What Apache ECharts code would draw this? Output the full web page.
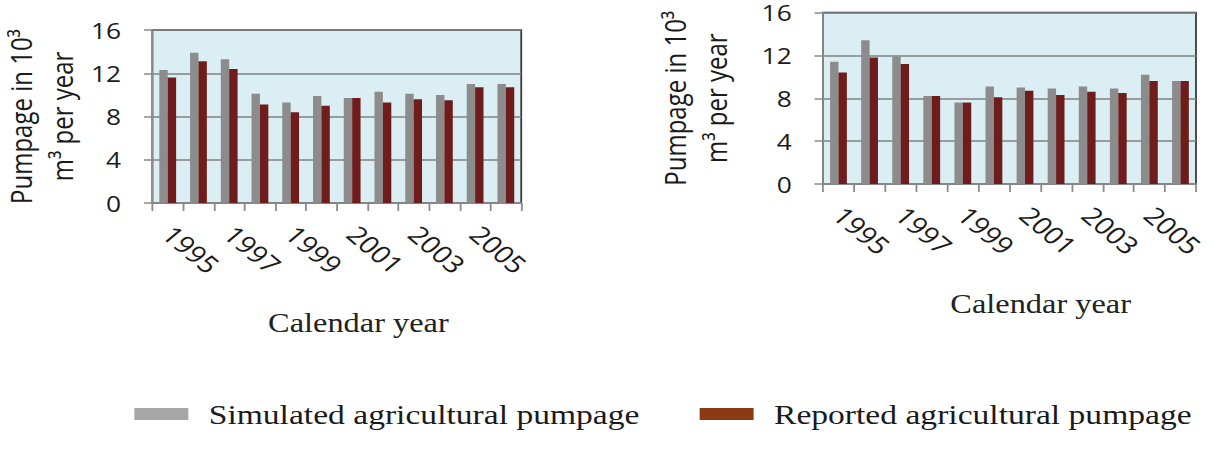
<!DOCTYPE html>
<html>
<head>
<meta charset="utf-8">
<script src="https://cdn.jsdelivr.net/npm/echarts@6/dist/echarts.min.js"></script>
<style>
  html, body { margin: 0; padding: 0; background: #fff; overflow: hidden; }
  /* the source figure is stretched sideways, so draw narrow and widen */
  #main { width: 1012px; height: 450px; transform: scaleX(1.1996); transform-origin: 0 0; }
</style>
</head>
<body>
<div id="main"></div>
<script>
const years = ['1995', '1996', '1997', '1998', '1999', '2000', '2001', '2002', '2003', '2004', '2005', '2006']
const leftSimulated = [12.3, 13.9, 13.3, 10.1, 9.3, 9.9, 9.7, 10.3, 10.1, 10.0, 11.0, 11.0]
const leftReported = [11.6, 13.1, 12.4, 9.1, 8.4, 9.0, 9.7, 9.3, 9.6, 9.5, 10.7, 10.7]
const rightSimulated = [11.4, 13.4, 11.9, 8.2, 7.6, 9.1, 9.0, 8.9, 9.1, 8.9, 10.2, 9.6]
const rightReported = [10.4, 11.8, 11.2, 8.2, 7.6, 8.1, 8.7, 8.3, 8.6, 8.5, 9.6, 9.6]
const yTicks = [0, 4, 8, 12, 16]

const SIM = 'Simulated agricultural pumpage'
const REP = 'Reported agricultural pumpage'
const sans = '"Open Sans", sans-serif'
const serif = '"Liberation Serif", serif'

function xAxisFor(idx, shift) {
  return {
    type: 'category',
    gridIndex: idx,
    data: years,
    name: 'Calendar year',
    nameLocation: 'middle',
    nameGap: 106,
    nameTextStyle: { fontFamily: serif, fontSize: 27, color: '#222', padding: [0, 0, 0, shift] },
    axisLine: { lineStyle: { color: '#8a8a8a', width: 1.5 } },
    axisTick: { show: true, interval: 0, length: 8, lineStyle: { color: '#8a8a8a', width: 1.5 } },
    axisLabel: { interval: 1, rotate: -45, margin: 27, fontFamily: sans, fontSize: 24, color: '#1a1a1a' },
    splitLine: { show: false }
  }
}

function yAxisFor(idx, gap) {
  return {
    type: 'value',
    gridIndex: idx,
    min: yTicks[0],
    max: yTicks[yTicks.length - 1],
    interval: 4,
    name: 'Pumpage in 10³\nm³ per year',
    nameLocation: 'middle',
    nameGap: gap,
    nameRotate: 90,
    nameTextStyle: { fontFamily: sans, fontSize: 24, lineHeight: 34, color: '#1a1a1a' },
    axisLine: { show: true, lineStyle: { color: '#8a8a8a', width: 1.5 } },
    axisTick: { show: true, length: 7, lineStyle: { color: '#8a8a8a', width: 1.5 } },
    axisLabel: { margin: 26, fontFamily: sans, fontSize: 22, lineHeight: 20, color: '#1a1a1a' },
    splitLine: { show: true, lineStyle: { color: '#808080', width: 1.5 } }
  }
}

function bars(name, data, idx, color) {
  return {
    name: name,
    type: 'bar',
    xAxisIndex: idx,
    yAxisIndex: idx,
    data: data,
    barWidth: 7,
    barGap: '0%',
    itemStyle: { color: color },
    animation: false
  }
}

const chart = echarts.init(document.getElementById('main'), null, { renderer: 'svg' })
chart.setOption({
  animation: false,
  grid: [
    { left: 122.5, top: 30, width: 312, height: 173, show: true, backgroundColor: '#dbeef3', borderColor: '#3a3a3a', borderWidth: 1.5 },
    { left: 686, top: 12.5, width: 311, height: 171.5, show: true, backgroundColor: '#dbeef3', borderColor: '#3a3a3a', borderWidth: 1.5 }
  ],
  legend: {
    left: 107,
    top: 395,
    itemWidth: 45,
    itemHeight: 12,
    itemGap: 50,
    icon: 'rect',
    textStyle: { fontFamily: serif, fontSize: 28, color: '#1a1a1a', padding: [0, 0, 0, 12] },
    data: [
      { name: SIM, itemStyle: { color: '#a6a6a6' } },
      { name: REP, itemStyle: { color: '#8b3a12' } }
    ]
  },
  xAxis: [xAxisFor(0, 36), xAxisFor(1, 52)],
  yAxis: [yAxisFor(0, 58), yAxisFor(1, 72)],
  series: [
    bars(SIM, leftSimulated, 0, '#8c8c8c'),
    bars(REP, leftReported, 0, '#6e1c1c'),
    bars(SIM, rightSimulated, 1, '#8c8c8c'),
    bars(REP, rightReported, 1, '#6e1c1c')
  ]
})
</script>
</body>
</html>
